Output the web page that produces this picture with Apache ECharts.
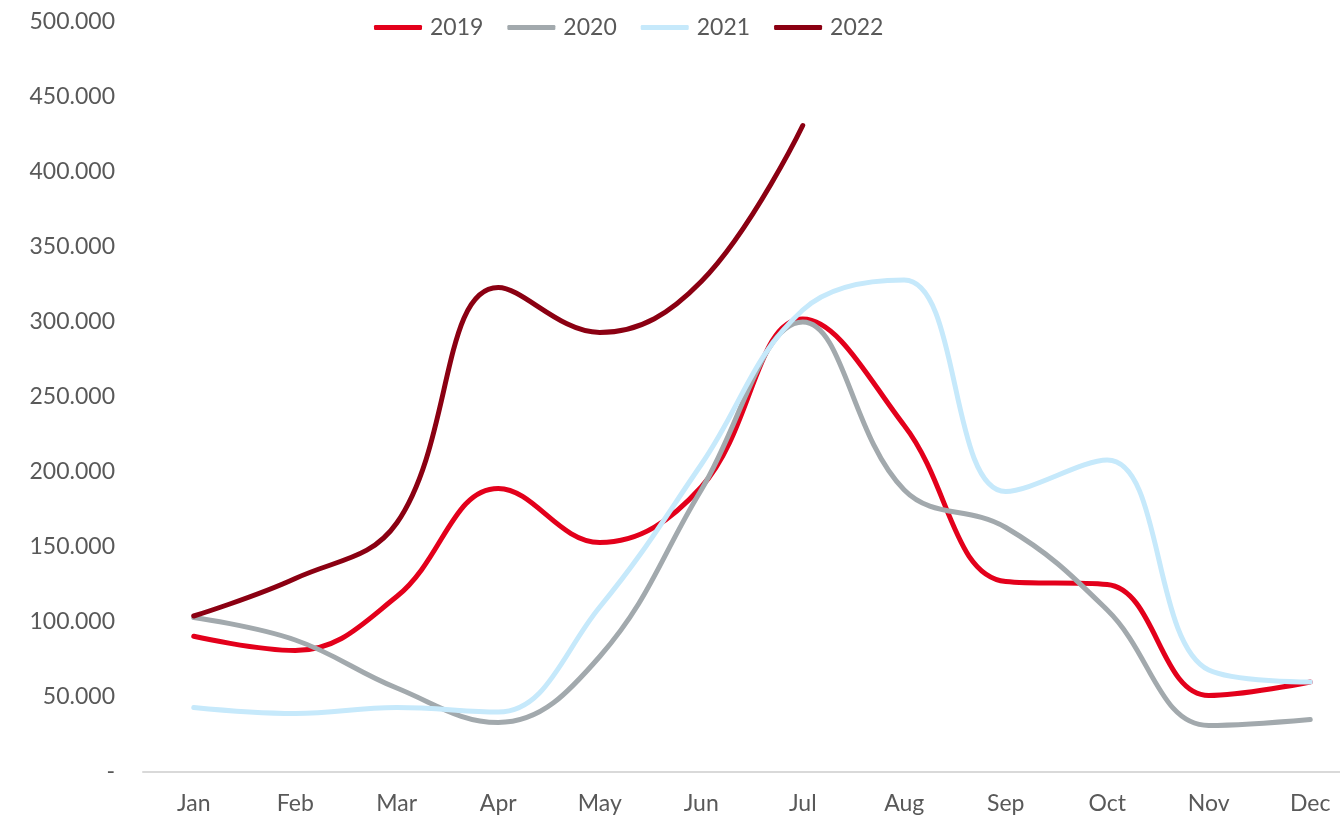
<!DOCTYPE html>
<html>
<head>
<meta charset="utf-8">
<script src="https://cdn.jsdelivr.net/npm/echarts@6/dist/echarts.min.js"></script>
<style>
  html, body { margin: 0; padding: 0; background: #ffffff; }
  #chart { width: 1340px; height: 816px; }
</style>
</head>
<body>
<div id="chart"></div>
<script>
// Monthly volumes by year
const months = ['Jan', 'Feb', 'Mar', 'Apr', 'May', 'Jun', 'Jul', 'Aug', 'Sep', 'Oct', 'Nov', 'Dec'];
const years = ['2019', '2020', '2021', '2022'];
const values2019 = [90500, 81000, 117000, 189000, 153000, 190000, 302000, 231000, 127000, 125000, 51000, 60000];
const values2020 = [103000, 88000, 56000, 33000, 77000, 188000, 300000, 188000, 163000, 108000, 31000, 35000];
const values2021 = [43000, 39000, 43000, 40000, 110000, 205000, 308000, 328000, 187000, 208000, 68000, 60000];
const values2022 = [104000, 129000, 166000, 323000, 293000, 327000, 431000];
const yTicks = [0, 50000, 100000, 150000, 200000, 250000, 300000, 350000, 400000, 450000, 500000];

const colors = ['#e3001b', '#a2a9ad', '#c6e9fb', '#8b0012'];
const seriesValues = [values2019, values2020, values2021, values2022];
const fontFamily = 'Lato, "Open Sans", sans-serif';

function formatThousands(v) {
  if (v === 0) return '-';
  return String(v).replace(/\B(?=(\d{3})+(?!\d))/g, '.');
}

const chart = echarts.init(document.getElementById('chart'), null, { renderer: 'canvas' });
chart.setOption({
  animation: false,
  backgroundColor: '#ffffff',
  color: colors,
  legend: {
    top: 11,
    left: 369,
    icon: 'roundRect',
    itemWidth: 48,
    itemHeight: 5,
    itemGap: 24,
    textStyle: { color: '#595959', fontSize: 23, fontFamily: fontFamily, padding: [0, 0, 0, 3] },
    data: years
  },
  // the last category runs past the right edge, so the plot area may extend beyond the canvas
  grid: { left: 143, top: 22, right: -21, bottom: 44, containLabel: false, outerBoundsMode: 'none' },
  xAxis: {
    type: 'category',
    data: months,
    boundaryGap: true,
    axisLine: { lineStyle: { color: '#d9d9d9', width: 2 } },
    axisTick: { show: false },
    axisLabel: { color: '#595959', fontSize: 23, fontFamily: fontFamily, margin: 20 }
  },
  yAxis: {
    type: 'value',
    min: yTicks[0],
    max: yTicks[yTicks.length - 1],
    interval: yTicks[1] - yTicks[0],
    axisLine: { show: false },
    axisTick: { show: false },
    splitLine: { show: false },
    axisLabel: { color: '#595959', fontSize: 23, fontFamily: fontFamily, margin: 28, formatter: formatThousands }
  },
  series: years.map((y, i) => ({
    name: y,
    type: 'line',
    data: seriesValues[i],
    smooth: 0.4,
    symbol: 'none',
    lineStyle: { width: 5, color: colors[i], cap: 'round', join: 'round' },
    itemStyle: { color: colors[i] },
    z: 2 + i
  }))
});
</script>
</body>
</html>
